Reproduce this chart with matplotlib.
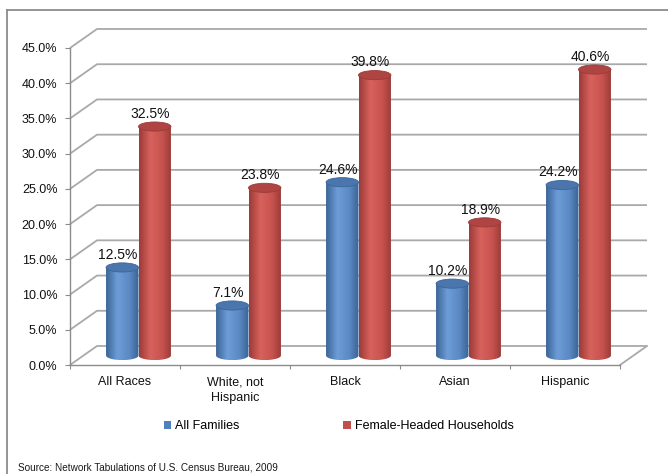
import numpy as np
import matplotlib
matplotlib.use("Agg")
import matplotlib.pyplot as plt
from matplotlib.patches import PathPatch, Ellipse, Patch
from matplotlib.path import Path
from matplotlib.colors import to_rgb
from matplotlib.lines import Line2D

# ---- data ----
categories = ["All Races", "White, not\nHispanic", "Black", "Asian", "Hispanic"]
all_families = [12.5, 7.1, 24.6, 10.2, 24.2]
female_headed = [32.5, 23.8, 39.8, 18.9, 40.6]
series_names = ["All Families", "Female-Headed Households"]
yticks = np.arange(0, 45.1, 5)
source_text = "Source: Network Tabulations of U.S. Census Bureau, 2009"

# ---- style ----
plt.rcParams['font.family'] = ['Liberation Sans', 'DejaVu Sans']
W, H = 668, 474
fig = plt.figure(figsize=(W / 100, H / 100), dpi=100)
ax = fig.add_axes([70 / W, (H - 365) / H, 550 / W, 317 / H])

DX = 27 / 110          # depth offset in category units
DY = 19 / (317 / 45)   # depth offset in percent units
GRID = '#a9a9a9'
AXC = '#8c8c8c'

blue_stops = ['#3c6598', '#6d9dd8', '#5b88c2', '#3a6396']
red_stops = ['#9c3b38', '#d8625d', '#c6524e', '#983936']
blue_top = '#4a76ad'
red_top = '#ae4542'
stop_pos = [0.0, 0.35, 0.72, 1.0]


def gradient(stops, n=80):
    cols = np.array([to_rgb(c) for c in stops])
    t = np.linspace(0, 1, n)
    out = np.zeros((1, n, 3))
    for k in range(3):
        out[0, :, k] = np.interp(t, stop_pos, cols[:, k])
    return out


# back wall and side wall gridlines
for y in yticks:
    ax.plot([0, DX, 5 + DX], [y, y + DY, y + DY], color=GRID, lw=1.3,
            clip_on=False, zorder=1, solid_capstyle='butt')
ax.plot([5, 5 + DX], [0, DY], color=GRID, lw=1.3, clip_on=False, zorder=1)

BW = 0.295
B = 0.65  # semi-minor of ellipse (percent units)


def cylinder(xc, val, stops, topc, z):
    xc = xc + DX / 2
    x0, x1 = xc - BW / 2, xc + BW / 2
    yb = DY / 2
    yt = val + DY / 2
    t = np.linspace(np.pi, 2 * np.pi, 40)
    verts = [(x0, yt), (x0, yb)]
    verts += list(zip(xc + BW / 2 * np.cos(t), yb + B * np.sin(t)))
    verts += [(x1, yt), (x0, yt)]
    codes = [Path.MOVETO] + [Path.LINETO] * (len(verts) - 2) + [Path.CLOSEPOLY]
    patch = PathPatch(Path(verts, codes), facecolor='none', edgecolor='none',
                      transform=ax.transData, zorder=z)
    ax.add_patch(patch)
    im = ax.imshow(gradient(stops), extent=[x0, x1, yb - B, yt], aspect='auto',
                   interpolation='bilinear', zorder=z)
    im.set_clip_path(patch)
    ax.add_patch(Ellipse((xc, yt), BW, 2 * B, facecolor=topc,
                         edgecolor=stops[0], lw=0.6, zorder=z + 0.1))
    ax.text(xc - 0.04, yt + B + 0.15, f"{val:.1f}%", ha='center', va='bottom',
            fontsize=10, color='#111111', zorder=10)


for i in range(len(categories)):
    cylinder(i + 0.5 - BW / 2, all_families[i], blue_stops, blue_top, 3)
    cylinder(i + 0.5 + BW / 2, female_headed[i], red_stops, red_top, 4)

ax.set_xlim(0, 5)
ax.set_ylim(0, 45)
ax.patch.set_visible(False)
for s in ['top', 'right']:
    ax.spines[s].set_visible(False)
for s in ['left', 'bottom']:
    ax.spines[s].set_color(AXC)
    ax.spines[s].set_linewidth(1.0)

ax.set_yticks(yticks)
ax.set_yticklabels([f"{v:.1f}%" for v in yticks])
ax.tick_params(axis='y', direction='out', length=3.6, color=AXC, pad=5.5,
               labelsize=9, labelcolor='#111111')
ax.set_xticks(np.arange(0, 6))
ax.set_xticklabels([])
ax.tick_params(axis='x', which='major', direction='out', length=3, color=AXC)
ax.set_xticks(np.arange(len(categories)) + 0.5, minor=True)
ax.set_xticklabels(categories, minor=True)
ax.tick_params(axis='x', which='minor', length=0, pad=8, labelsize=9,
               labelcolor='#111111')
for lab in ax.get_xticklabels(minor=True):
    lab.set_multialignment('center')
    lab.set_linespacing(1.45)

handles = [Patch(facecolor='#4f81bd'), Patch(facecolor='#c0504d')]
fig.legend(handles, series_names, loc='center', bbox_to_anchor=(0.507, (H - 426) / H),
           ncol=2, frameon=False, handlelength=0.6, handleheight=0.6,
           handletextpad=0.3, columnspacing=8.3, fontsize=9)

fig.text(18 / W, (H - 467) / H, source_text, fontsize=7.2, va='center',
         color='#1a1a1a')

fig.add_artist(Line2D([7 / W, 1], [(H - 10) / H] * 2, transform=fig.transFigure,
                      color=AXC, lw=1.3))
fig.add_artist(Line2D([7 / W] * 2, [0, (H - 10) / H], transform=fig.transFigure,
                      color=AXC, lw=1.3))

fig.savefig('out.png', dpi=100)
